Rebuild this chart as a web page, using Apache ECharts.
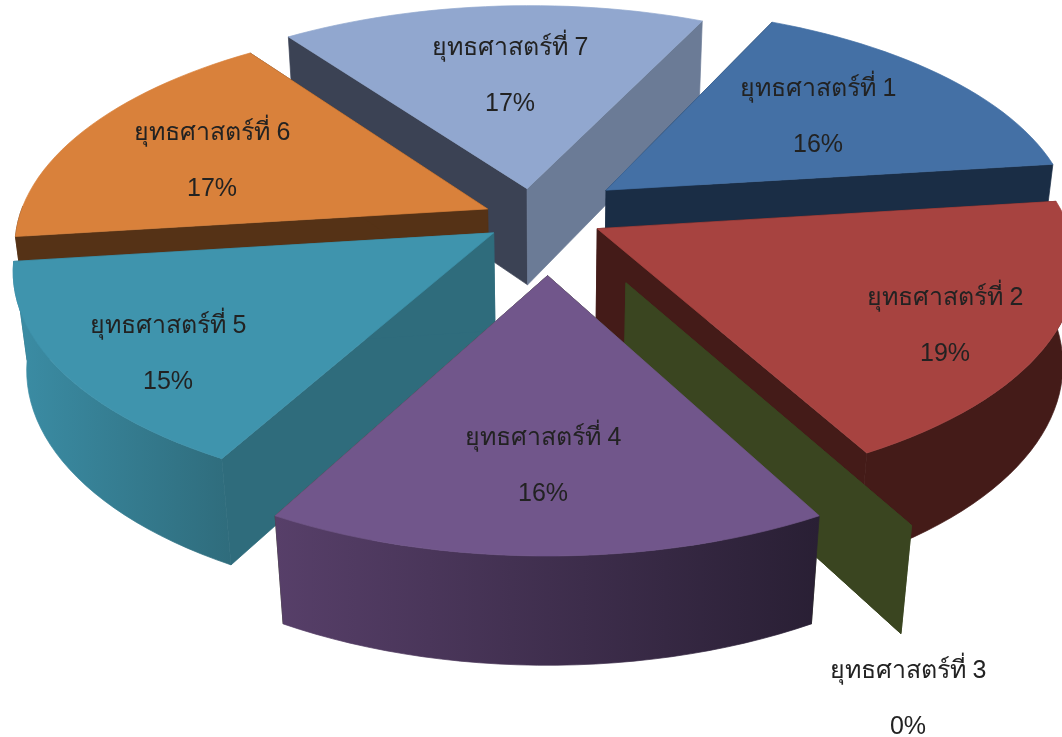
<!DOCTYPE html>
<html>
<head>
<meta charset="utf-8">
<style>html,body{margin:0;padding:0;background:#fff}#c{width:1062px;height:737px}</style>
<script src="https://cdn.jsdelivr.net/npm/echarts@6/dist/echarts.min.js"></script>
</head>
<body>
<div id="c"></div>
<script>
// Data
const categories = ['ยุทธศาสตร์ที่ 1','ยุทธศาสตร์ที่ 2','ยุทธศาสตร์ที่ 3','ยุทธศาสตร์ที่ 4','ยุทธศาสตร์ที่ 5','ยุทธศาสตร์ที่ 6','ยุทธศาสตร์ที่ 7'];
const values = [16, 19, 0, 16, 15, 17, 17];

// Styling
const topColors  = ['#4470a5','#a74340','#3a4520','#71568b','#3f94ad','#d9813b','#91a7cf'];
const wallStart  = ['#1a2d45','#441b18','#3a4520','#3a4520','#2f6c7c','#553216','#3b4254'];
const wallEnd    = ['#1a2d45','#441b18','#3a4520','#3a4520','#2f6c7c','#553216','#6b7b96'];
const outerFrom  = ['#1a2d45','#441b18','#3a4520','#573f69','#3b8da5','#553216','#3b4254'];
const outerTo    = ['#1a2d45','#441b18','#3a4520','#291f34','#2f6c7c','#553216','#3b4254'];
// Exploded offset of each slice, in pie radii
const explodeX   = [0.122, 0.100, 0.155, -0.005, -0.119, -0.134, -0.050];
const explodeY   = [-0.148, 0.030, 0.265, 0.235, 0.049, -0.060, -0.155];
const paintOrder = [6, 0, 5, 1, 4, 2, 3];
const labelPos   = [[818,117],[945,326],[908,699],[543,466],[168,354],[212,161],[510,76]];

// Camera
const START = 25.2, CX = 550, CY = 222, RX = 470, RY = 220, DEPTH = 100, PA = 0.151, PB = 0.025;
const total = values.reduce((a, b) => a + b, 0);
const starts = [];
values.reduce((acc, v, i) => { starts[i] = acc; return acc + v; }, 0);

function project(x, y, z) {
  const p = 1 / (1 - PA * y + PB * z);
  return [CX + RX * x * p, CY + (RY * y + DEPTH * z) * p];
}
function dir(deg) {
  const r = deg * Math.PI / 180;
  return [Math.sin(r), -Math.cos(r)];
}

function renderItem(params, api) {
  const i = api.value(0);
  const value = api.value(1);
  const a0 = START + api.value(2) / total * 360;
  const a1 = a0 + value / total * 360;
  const ox = explodeX[i], oy = explodeY[i];
  const n = Math.max(1, Math.ceil((a1 - a0) / 2));
  const topArc = [], frontTop = [], frontBot = [];
  for (let k = 0; k <= n; k++) {
    const d = dir(a0 + (a1 - a0) * k / n);
    topArc.push(project(ox + d[0], oy + d[1], 0));
    if (d[1] >= -0.02) {
      frontTop.push(project(ox + d[0], oy + d[1], 0));
      frontBot.push(project(ox + d[0], oy + d[1], 1));
    }
  }
  const d0 = dir(a0), d1 = dir(a1);
  const apexT = project(ox, oy, 0), apexB = project(ox, oy, 1);
  const poly = (points, fill) => ({
    type: 'polygon', shape: { points },
    style: { fill, stroke: fill, lineWidth: 0.7 }, silent: true
  });
  const children = [];
  // radial walls
  children.push(poly([apexT, project(ox + d0[0], oy + d0[1], 0), project(ox + d0[0], oy + d0[1], 1), apexB], wallStart[i]));
  children.push(poly([apexT, project(ox + d1[0], oy + d1[1], 0), project(ox + d1[0], oy + d1[1], 1), apexB], wallEnd[i]));
  // outer wall: only the part that faces the viewer
  if (value > 0 && frontTop.length > 1) children.push(poly(frontTop.concat(frontBot.reverse()), {
    type: 'linear', x: 0, y: 0, x2: 1, y2: 0,
    colorStops: [{ offset: 0, color: outerFrom[i] }, { offset: 1, color: outerTo[i] }]
  }));
  // top face
  if (value > 0) children.push(poly([apexT].concat(topArc), topColors[i]));
  // label
  children.push({
    type: 'text', silent: true, z2: 10,
    style: {
      x: labelPos[i][0], y: labelPos[i][1],
      text: categories[i] + '\n' + value + '%',
      fill: '#222222', font: '25px "Liberation Sans", "Noto Sans", sans-serif',
      lineHeight: 56, align: 'center', verticalAlign: 'middle'
    }
  });
  return { type: 'group', children };
}

const seriesData = paintOrder.map(i => [i, values[i], starts[i]]);
const chart = echarts.init(document.getElementById('c'), null, { renderer: 'canvas' });
chart.setOption({
  backgroundColor: '#ffffff',
  animation: false,
  series: [{
    type: 'custom',
    coordinateSystem: 'none',
    renderItem,
    data: seriesData,
    silent: true
  }]
});
</script>
</body>
</html>
